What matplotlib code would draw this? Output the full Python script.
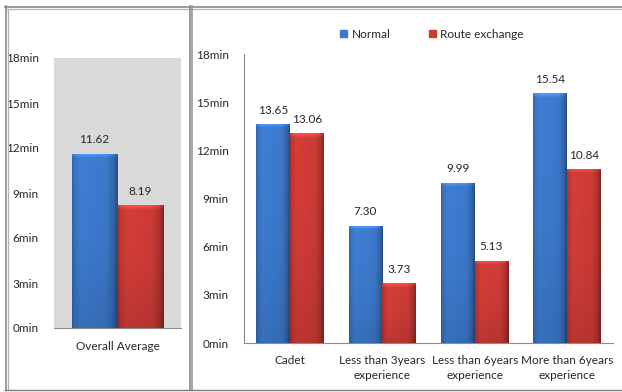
import numpy as np
import matplotlib
matplotlib.use("Agg")
import matplotlib.pyplot as plt
from matplotlib.lines import Line2D
from matplotlib.patches import Rectangle
from matplotlib.colors import to_rgb

plt.rcParams['font.family'] = ['Lato', 'DejaVu Sans']

# ---- data ----
overall_label = ["Overall Average"]
overall_normal = [11.62]
overall_route = [8.19]

groups = ["Cadet", "Less than 3years\nexperience", "Less than 6years\nexperience",
          "More than 6years\nexperience"]
normal = [13.65, 7.30, 9.99, 15.54]
route = [13.06, 3.73, 5.13, 10.84]

series_names = ["Normal", "Route exchange"]
yticks = [0, 3, 6, 9, 12, 15, 18]
ytick_labels = [f"{v}min" for v in yticks]

BLUE = "#3c79cb"
RED = "#cc3b36"
TXT = "#262626"
AX = "#8c8c8c"

W, H = 622, 392
fig = plt.figure(figsize=(W / 100, H / 100), dpi=100)
fig.patch.set_facecolor("white")


def fx(px):
    return px / W


def fy(py):
    return 1 - py / H


def shade_bars(ax, patches, color):
    """Paint a bevelled gradient inside each bar patch."""
    base = np.array(to_rgb(color))
    fig.canvas.draw()
    for p in patches:
        x0, y0 = p.get_x(), p.get_y()
        w, h = p.get_width(), p.get_height()
        (px0, py0), (px1, py1) = ax.transData.transform([(x0, y0), (x0 + w, y0 + h)])
        nx = max(int(round(px1 - px0)), 2)
        ny = max(int(round(py1 - py0)), 2)
        t = (np.arange(nx) + 0.5) / nx
        hor = np.interp(t, [0, 0.06, 0.2, 0.75, 0.9, 1.0],
                        [0.82, 0.95, 1.05, 1.0, 0.85, 0.62])
        rows = np.arange(ny)  # row 0 = top
        ver = np.interp(rows, [0, 2, 4, ny * 0.5, ny - 1],
                        [1.25, 1.15, 1.0, 0.97, 0.88])
        fac = ver[:, None] * hor[None, :]
        img = np.clip(base[None, None, :] * fac[:, :, None], 0, 1)
        im = ax.imshow(img, extent=[x0, x0 + w, y0, y0 + h], aspect="auto",
                       interpolation="bilinear", zorder=3)
        im.set_clip_path(p)


def style_axes(ax):
    ax.set_ylim(0, 18)
    ax.set_yticks(yticks)
    ax.set_yticklabels(ytick_labels)
    ax.tick_params(axis="both", length=0, labelsize=8.5, colors=TXT)
    ax.tick_params(axis="y", pad=11)
    ax.tick_params(axis="x", pad=9)
    for s in ["top", "right"]:
        ax.spines[s].set_visible(False)
    ax.spines["bottom"].set_color(AX)
    ax.spines["left"].set_color(AX)


# ---- left panel: overall average ----
axL = fig.add_axes([fx(54), fy(328), fx(181 - 54), (328 - 58) / H])
axL.set_facecolor("#d9d9d9")
bw = 0.362
xL = np.arange(len(overall_label))
bL1 = axL.bar(xL - bw / 2, overall_normal, bw, color=BLUE, zorder=2)
bL2 = axL.bar(xL + bw / 2, overall_route, bw, color=RED, zorder=2)
axL.set_xlim(-0.5, 0.5)
style_axes(axL)
axL.spines["left"].set_visible(False)
axL.set_xticks(xL)
axL.set_xticklabels(overall_label)
for bars, vals in [(bL1, overall_normal), (bL2, overall_route)]:
    for b, v in zip(bars, vals):
        axL.annotate(f"{v:.2f}", (b.get_x() + b.get_width() / 2, v),
                     xytext=(0, 6), textcoords="offset points",
                     ha="center", va="bottom", fontsize=8.5, color=TXT)

# ---- right panel: by experience ----
axR = fig.add_axes([fx(244), fy(343), fx(613 - 244), (343 - 54) / H])
x = np.arange(len(groups))
bw2 = 0.365
bR1 = axR.bar(x - bw2 / 2, normal, bw2, color=BLUE, zorder=2, label=series_names[0])
bR2 = axR.bar(x + bw2 / 2, route, bw2, color=RED, zorder=2, label=series_names[1])
axR.set_xlim(-0.5, len(groups) - 0.5)
style_axes(axR)
axR.set_xticks(x)
axR.set_xticklabels(groups, linespacing=1.35)
for bars, vals in [(bR1, normal), (bR2, route)]:
    for b, v in zip(bars, vals):
        axR.annotate(f"{v:.2f}", (b.get_x() + b.get_width() / 2, v),
                     xytext=(0, 6), textcoords="offset points",
                     ha="center", va="bottom", fontsize=8.5, color=TXT)

shade_bars(axL, list(bL1), BLUE)
shade_bars(axL, list(bL2), RED)
shade_bars(axR, list(bR1), BLUE)
shade_bars(axR, list(bR2), RED)
axL.set_xlim(-0.5, 0.5); axL.set_ylim(0, 18)
axR.set_xlim(-0.5, len(groups) - 0.5); axR.set_ylim(0, 18)

leg = axR.legend(handles=[Rectangle((0, 0), 1, 1, color=BLUE),
                          Rectangle((0, 0), 1, 1, color=RED)],
                 labels=series_names, loc="center", ncol=2,
                 bbox_to_anchor=((432 - 244) / (613 - 244), (343 - 34) / (343 - 54)),
                 frameon=False, fontsize=8.5, handlelength=0.6, handleheight=0.6,
                 handletextpad=0.4, columnspacing=3.2)
for t in leg.get_texts():
    t.set_color(TXT)

# ---- panel frames ----
def hline(y, x0, x1, c, lw=1.0):
    fig.add_artist(Line2D([fx(x0), fx(x1)], [fy(y), fy(y)], color=c, lw=lw))


def vline(x_, y0, y1, c, lw=1.0):
    fig.add_artist(Line2D([fx(x_), fx(x_)], [fy(y0), fy(y1)], color=c, lw=lw))


hline(6.5, 5, W, "#8a8a8a", 1.2)
hline(9.0, 7.5, W, "#b5b5b5", 0.9)
vline(5.5, 6, 390, "#8a8a8a", 1.2)
vline(8.0, 9, 390, "#b5b5b5", 0.9)
vline(189.5, 6, 390, "#8a8a8a", 1.2)
vline(192.0, 6, 390, "#9a9a9a", 1.2)
hline(390, 5, W, "#7a7a7a", 1.0)

fig.savefig("out.png", dpi=100)
